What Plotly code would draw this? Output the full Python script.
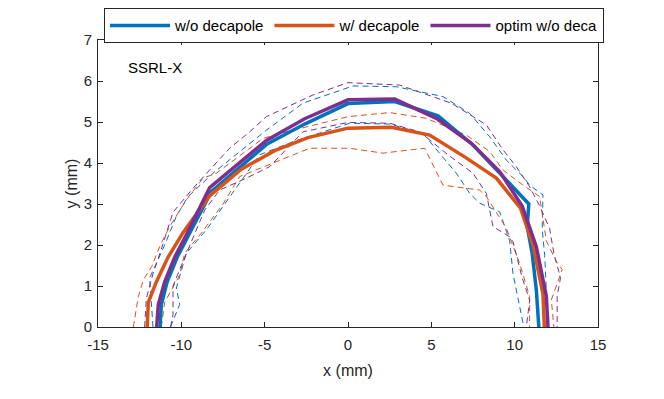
import plotly.graph_objects as go

# ---- data (mm) ----
blue_x = [-11.28, -11.2, -10.85, -10.25, -9.55, -8.2, -4.9, -2.6, 0.0, 2.8, 5.4, 7.5, 9.3, 10.85, 10.75, 11.05, 11.3, 11.45]
blue_y = [0, 0.55, 1.1, 1.7, 2.25, 3.3, 4.45, 4.95, 5.45, 5.5, 5.15, 4.44, 3.67, 3.0, 2.45, 1.8, 0.9, 0]

orange_x = [-12.05, -11.98, -11.5, -10.8, -9.9, -8.3, -6.4, -4.4, -2.4, 0.0, 2.6, 4.9, 7.0, 8.9, 10.35, 11.1, 11.7, 11.78]
orange_y = [0, 0.6, 1.1, 1.7, 2.3, 3.2, 3.85, 4.3, 4.62, 4.85, 4.87, 4.68, 4.15, 3.63, 2.9, 2.0, 0.8, 0]

purple_x = [-11.48, -11.38, -11.0, -10.4, -9.7, -8.3, -4.9, -2.6, 0.0, 2.8, 5.3, 7.4, 9.1, 10.45, 11.3, 11.9, 12.0]
purple_y = [0, 0.55, 1.1, 1.7, 2.25, 3.4, 4.55, 5.08, 5.54, 5.56, 5.09, 4.48, 3.79, 2.95, 1.96, 0.75, 0]

blue_out_x = [-11.7, -11.85, -11.9, -11.5, -11.0, -10.3, -9.6, -8.1, -6.5, -4.9, -2.7, 0.3, 2.9, 5.7, 7.3, 8.5, 9.5, 10.5, 10.9, 11.7, 11.65, 11.8, 11.9, 11.95]
blue_out_y = [0, 0.85, 1.2, 1.55, 2.0, 2.7, 3.18, 3.75, 4.28, 4.8, 5.46, 5.88, 5.86, 5.62, 5.21, 4.64, 4.07, 3.67, 3.46, 3.22, 2.4, 1.75, 0.9, 0]
blue_in_x = [-10.65, -10.1, -10.3, -9.7, -8.5, -6.5, -5.3, -3.3, 0.1, 2.5, 4.5, 6.5, 7.3, 7.9, 9.1, 9.7, 9.9, 10.2, 10.55]
blue_in_y = [0, 0.55, 0.95, 1.8, 2.37, 3.5, 4.2, 4.52, 4.97, 4.95, 4.72, 3.75, 3.26, 3.02, 2.81, 2.1, 1.3, 0.7, 0]

orange_out_x = [-12.88, -12.58, -12.28, -11.78, -11.3, -10.7, -9.7, -8.7, -7.9, -5.1, -4.1, 0.0, 2.5, 4.7, 7.1, 8.5, 9.3, 10.5, 11.5, 11.9, 12.5, 12.85, 12.2, 12.35]
orange_out_y = [0, 0.74, 1.15, 1.47, 1.96, 2.45, 3.1, 3.63, 3.75, 4.6, 4.72, 5.13, 5.23, 5.09, 4.68, 4.28, 3.83, 3.46, 3.18, 2.1, 1.6, 1.4, 0.66, 0]
orange_in_x = [-11.2, -11.0, -10.1, -9.8, -8.8, -7.5, -6.5, -5.3, -2.3, 0.1, 2.1, 2.9, 4.6, 5.7, 7.9, 8.3, 9.5, 10.3, 10.9, 10.9]
orange_in_y = [0, 0.6, 1.27, 1.8, 2.29, 3.0, 3.67, 3.87, 4.36, 4.36, 4.24, 4.28, 4.36, 3.46, 3.34, 3.18, 2.41, 1.55, 0.74, 0]

purple_out_x = [-12.2, -12.1, -11.7, -11.2, -10.5, -9.3, -8.3, -7.1, -5.9, -4.9, -2.1, 0.0, 3.1, 6.2, 8.3, 9.3, 10.1, 10.9, 11.5, 12.1, 12.35, 12.75, 12.55, 12.55]
purple_out_y = [0, 0.7, 1.3, 1.9, 2.8, 3.38, 3.83, 4.36, 4.76, 5.13, 5.66, 5.96, 5.9, 5.46, 4.93, 4.32, 3.91, 3.42, 2.95, 2.4, 1.8, 1.2, 0.75, 0]
purple_in_x = [-10.65, -10.5, -10.5, -10.0, -8.6, -7.7, -6.1, -4.7, -2.7, 0.0, 2.5, 4.3, 6.0, 7.5, 8.3, 8.7, 9.7, 9.9, 10.45, 10.9, 10.7]
purple_in_y = [0, 0.3, 1.0, 1.5, 2.85, 3.34, 3.63, 3.91, 4.76, 4.99, 4.97, 4.76, 4.2, 3.75, 3.26, 2.45, 2.2, 2.08, 1.2, 0.65, 0]

series_names = ["w/o decapole", "w/ decapole", "optim w/o deca"]
x_ticks = [-15, -10, -5, 0, 5, 10, 15]
y_ticks = [0, 1, 2, 3, 4, 5, 6, 7]

BLUE = "#0072BD"
ORANGE = "#D95319"
PURPLE = "#7E2F8E"
AX = "#262626"
FONT = "Liberation Sans, Arial, sans-serif"

fig = go.Figure()

dashed = [
    (blue_out_x, blue_out_y, BLUE), (blue_in_x, blue_in_y, BLUE),
    (orange_out_x, orange_out_y, ORANGE), (orange_in_x, orange_in_y, ORANGE),
    (purple_out_x, purple_out_y, PURPLE), (purple_in_x, purple_in_y, PURPLE),
]
for xs, ys, c in dashed:
    fig.add_trace(go.Scatter(x=xs, y=ys, mode="lines", showlegend=False, hoverinfo="skip",
                             line=dict(color=c, width=1, dash="6px,4px")))

for xs, ys, c, name in [(blue_x, blue_y, BLUE, series_names[0]),
                        (orange_x, orange_y, ORANGE, series_names[1]),
                        (purple_x, purple_y, PURPLE, series_names[2])]:
    fig.add_trace(go.Scatter(x=xs, y=ys, mode="lines", name=name,
                             line=dict(color=c, width=3.5)))

axis_common = dict(showgrid=False, zeroline=False, showline=True, linecolor=AX, linewidth=1,
                   mirror="ticks", ticks="inside", ticklen=5, tickcolor=AX,
                   tickfont=dict(family=FONT, size=15, color=AX))

fig.update_xaxes(range=[-15, 15], tickvals=x_ticks, ticktext=[str(v) for v in x_ticks],
                 ticklabelstandoff=4,
                 title=dict(text="x (mm)", font=dict(family=FONT, size=16, color=AX), standoff=12),
                 **axis_common)
fig.update_yaxes(range=[0, 7], tickvals=y_ticks, ticktext=[str(v) for v in y_ticks],
                 ticklabelstandoff=2,
                 title=dict(text="y (mm)", font=dict(family=FONT, size=16, color=AX), standoff=2),
                 **axis_common)

fig.add_annotation(x=-13.3, y=6.32, text="SSRL-X", showarrow=False, xanchor="left", yanchor="middle",
                   font=dict(family=FONT, size=15, color="black"))

# page body has an 8px margin, so margins are shifted by 8px
fig.update_layout(
    width=664, height=399,
    margin=dict(l=90, r=74, t=32, b=80, autoexpand=False),
    paper_bgcolor="white", plot_bgcolor="white",
    showlegend=True,
    legend=dict(orientation="h", x=0.012, xanchor="left", y=1.111, yanchor="top",
                bgcolor="white", bordercolor=AX, borderwidth=1,
                font=dict(family=FONT, size=15, color="black"),
                itemwidth=60, tracegroupgap=0),
)

fig.write_html("out.html")
